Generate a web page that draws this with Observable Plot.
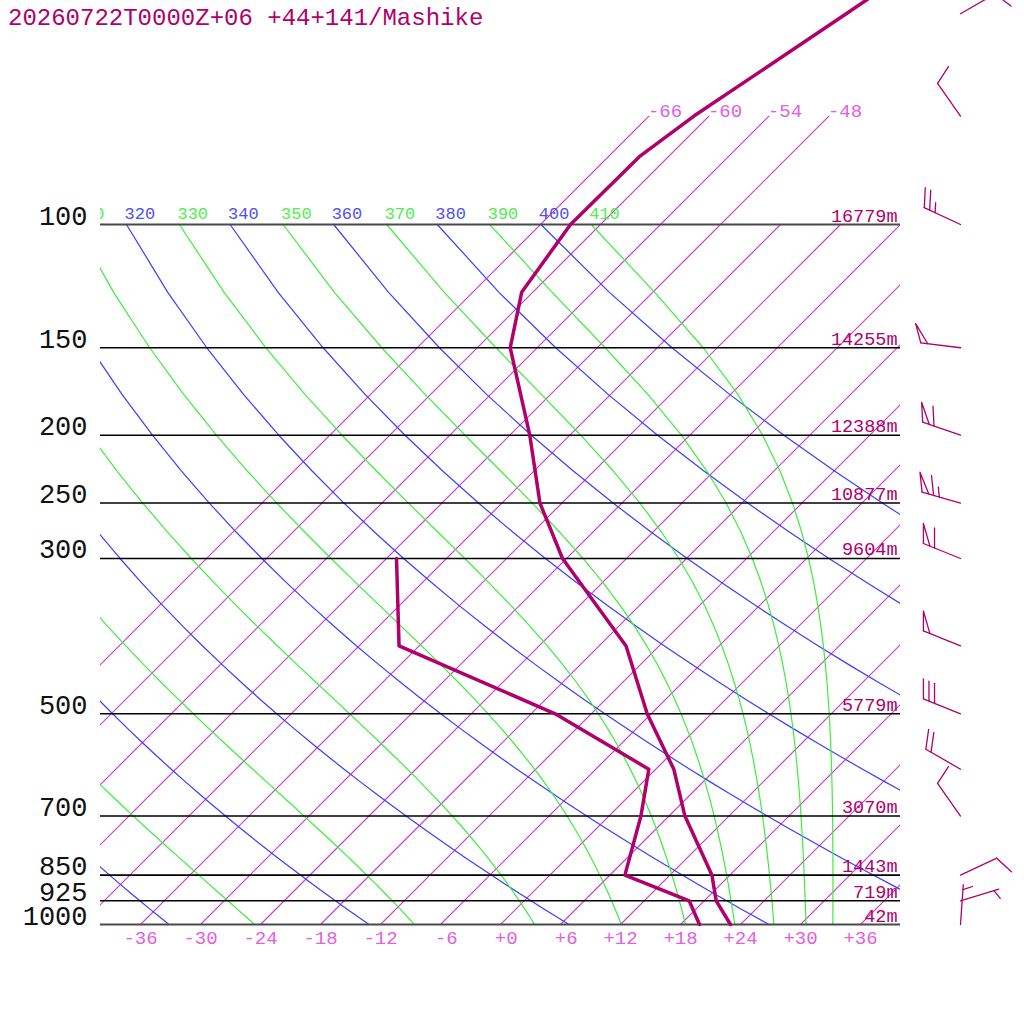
<!DOCTYPE html>
<html><head><meta charset="utf-8">
<script src="https://cdn.jsdelivr.net/npm/d3@7"></script>
<script src="https://cdn.jsdelivr.net/npm/@observablehq/plot@0.6"></script>
<style>
body{margin:0;background:#fff;}
#wrap{position:relative;width:1024px;height:1024px;overflow:hidden;}
#title{position:absolute;left:8px;top:3px;font:24px "Liberation Mono",monospace;color:#b0006b;line-height:32px;white-space:pre;}
</style></head><body>
<div id="wrap"><div id="chart"></div><div id="title">20260722T0000Z+06 +44+141/Mashike</div></div>
<script>
// ---- data ----
const tempP = [1000, 925, 850, 700, 600, 500, 400, 300, 250, 200, 150, 125, 100, 80, 70, 50, 30];
const tempC = [23.0, 19.2, 16.2, 7.6, 1.8, -6.4, -15.3, -30.4, -38.2, -46.0, -56.7, -61.1, -63.0, -62.9, -61.5, -56.5, -49.2];
const dewP = [1000, 925, 850, 700, 600, 500, 400, 300];
const dewC = [19.9, 16.5, 7.5, 3.2, -0.7, -15.6, -38.0, -47.0];
const pressureLevels = [1000, 925, 850, 700, 500, 300, 250, 200, 150, 100];
const pressureLabels = ["1000", "925", "850", "700", "500", "300", "250", "200", "150", "100"];
const heightLabels = ["42m", "719m", "1443m", "3070m", "5779m", "9604m", "10877m", "12388m", "14255m", "16779m"];
const isotherms = [-66, -60, -54, -48, -42, -36, -30, -24, -18, -12, -6, 0, 6, 12, 18, 24, 30, 36];
const isothermTopLabels = [-66, -60, -54, -48];
const xTicks = [-36, -30, -24, -18, -12, -6, 0, 6, 12, 18, 24, 30, 36];
const dryTheta = [240, 260, 280, 300, 320, 340, 360, 380, 400];
const moistThetaE = [250, 270, 290, 310, 330, 350, 370, 390, 410];
const barbP = [50, 70, 100, 150, 200, 250, 300, 400, 500, 600, 700, 850, 925, 1000];
const barbDir = [60, 325, 295, 277, 289, 286, 292, 292, 292, 300, 325, 65, 73, 4];
const barbSpd = [10, 10, 25, 50, 60, 65, 60, 50, 30, 20, 10, 10, 5, 5];

// ---- colours ----
const cProfile = "#b0006b", cIso = "#cc3ccc", cIsoLab = "#e060e0", cDry = "#3c3cff", cDryLab = "#5050f0", cMoist = "#3cee3c", cMoistLab = "#50ee50";
const font = "Liberation Mono";

// ---- geometry of the skew-T frame ----
const W = 1024, H = 1024, mL = 100, mR = 124, mB = 100;
const K = 700 / Math.LN10;                 // px per ln(p)
const mT = (H - mB) - K * Math.log(1000 / 70);
const SK = K / 10;                         // skew in deg per ln(p) (10 px per degree)
const skewX = (T, p) => T + SK * Math.log(1000 / p);
const xS = d3.scaleLinear([-40, 40], [mL, W - mR]);
const yS = d3.scaleLog([1000, 70], [H - mB, mT]);

// isotherms
const isoData = [];
for (const T of isotherms) {
  const top = T <= -48 ? 70 : 100;
  for (const p of [1000, top]) isoData.push({x: skewX(T, p), p, k: T});
}
// adiabats
const curveP = d3.range(1000, 99, -25);
const dryT100 = th => th * Math.pow(0.1, 0.2857) - 273.15;
const dryData = [];
for (const th of dryTheta) for (const p of curveP) dryData.push({x: skewX(th * Math.pow(p / 1000, 0.2857) - 273.15, p), p, k: th});
function thetaE(Tc, p) {
  const es = 6.112 * Math.exp(17.67 * Tc / (Tc + 243.5));
  if (es > 0.8 * p) return 1e9;
  const r = 622 * es / (p - es);
  const TK = Tc + 273.15;
  const thDL = TK * Math.pow(1000 / p, 0.2854 * (1 - 0.00028 * r));
  return thDL * Math.exp((3.376 / TK - 0.00254) * r * (1 + 0.00081 * r));
}
function solveT(te, p) {
  let lo = -160, hi = 60;
  for (let i = 0; i < 60; i++) { const m = (lo + hi) / 2; if (thetaE(m, p) < te) lo = m; else hi = m; }
  return (lo + hi) / 2;
}
const moistData = [];
for (const te of moistThetaE) for (const p of curveP) moistData.push({x: skewX(solveT(te, p), p), p, k: te});

// labels of adiabats at 100 hPa (only those reaching into the frame)
const dryLab = dryTheta.map(th => ({x: skewX(dryT100(th), 100), t: String(th)})).filter(d => xS(d.x) > 70);
const moistLab = moistThetaE.map(te => ({x: skewX(solveT(te, 100), 100), t: String(te)})).filter(d => xS(d.x) > 70);

// profiles
const tempData = tempP.map((p, i) => ({x: skewX(tempC[i], p), p}));
const dewData = dewP.map((p, i) => ({x: skewX(dewC[i], p), p}));

// wind barbs (built in pixel space from direction/speed, mapped back through the scales)
const barbData = [];
let bid = 0;
barbP.forEach((p, i) => {
  const ax = 960, ay = yS(p);
  const a = barbDir[i] * Math.PI / 180;
  const ux = Math.sin(a), uy = -Math.cos(a);
  const th = 68 * Math.PI / 180;
  const fx = ux * Math.cos(th) - uy * Math.sin(th), fy = ux * Math.sin(th) + uy * Math.cos(th);
  const L = 40;
  const pt = s => [ax + (L - s) * ux, ay + (L - s) * uy];
  const polys = [[[ax, ay], pt(0)]];
  let spd = barbSpd[i], s = 0;
  const pen = Math.floor(spd / 50); spd -= pen * 50;
  const full = Math.floor(spd / 10); spd -= full * 10;
  const half = spd >= 5 ? 1 : 0;
  if (pen === 0 && full === 0) s = 5;
  for (let j = 0; j < pen; j++) { const b = pt(s); polys.push([b, [b[0] + 20 * fx, b[1] + 20 * fy], pt(s + 7)]); s += 12; }
  for (let j = 0; j < full; j++) { const b = pt(s); polys.push([b, [b[0] + 20 * fx, b[1] + 20 * fy]]); s += 6; }
  for (let j = 0; j < half; j++) { const b = pt(s); polys.push([b, [b[0] + 10 * fx, b[1] + 10 * fy]]); s += 6; }
  for (const poly of polys) { for (const [px, py] of poly) barbData.push({x: xS.invert(px), p: yS.invert(py), k: bid}); bid++; }
});

const pad = t => { const s = (t >= 0 ? "+" : "") + t; return "\u00a0".repeat(Math.max(0, 3 - s.length)) + s; };

const chart = Plot.plot({
  width: W, height: H,
  marginLeft: mL, marginRight: mR, marginTop: mT, marginBottom: mB,
  x: {domain: [-40, 40], axis: null},
  y: {type: "log", domain: [1000, 70], axis: null},
  style: {background: "#fff", overflow: "visible"},
  marks: [
    Plot.line(isoData, {x: "x", y: "p", z: "k", stroke: cIso, strokeWidth: 1.2, clip: true}),
    Plot.line(dryData, {x: "x", y: "p", z: "k", stroke: cDry, strokeWidth: 1.2, clip: true}),
    Plot.line(moistData, {x: "x", y: "p", z: "k", stroke: cMoist, strokeWidth: 1.2, clip: true}),
    Plot.ruleY(pressureLevels.filter(p => p !== 100 && p !== 1000), {stroke: "#000", strokeWidth: 1.6}),
    Plot.ruleY(pressureLevels.filter(p => p === 100 || p === 1000), {stroke: "#4a4a4a", strokeWidth: 2}),
    Plot.text(dryLab, {x: "x", y: () => 100, text: "t", textAnchor: "start", lineAnchor: "bottom", dy: -5.5, dx: -2, fill: cDryLab, fontSize: 17, fontFamily: font, clip: true}),
    Plot.text(moistLab, {x: "x", y: () => 100, text: "t", textAnchor: "start", lineAnchor: "bottom", dy: -5.5, dx: -2, fill: cMoistLab, fontSize: 17, fontFamily: font, clip: true}),
    Plot.text(isothermTopLabels, {x: d => skewX(d, 70), y: () => 70, text: d => String(d), textAnchor: "start", lineAnchor: "bottom", dy: 0.5, dx: -1, fill: cIsoLab, fontSize: 19, fontFamily: font}),
    Plot.text(xTicks, {x: d => d, y: () => 1000, text: pad, textAnchor: "middle", lineAnchor: "bottom", dy: 19, fill: cIsoLab, fontSize: 19, fontFamily: font}),
    Plot.text(pressureLevels, {y: d => d, text: (d, i) => pressureLabels[i], frameAnchor: "left", dx: -13, textAnchor: "end", lineAnchor: "bottom", fill: "#111", fontSize: 27, fontFamily: font}),
    Plot.text(pressureLevels, {y: d => d, text: (d, i) => heightLabels[i], frameAnchor: "right", dx: -3, dy: -3, textAnchor: "end", lineAnchor: "bottom", fill: cProfile, fontSize: 18.5, fontFamily: font}),
    Plot.line(dewData, {x: "x", y: "p", stroke: cProfile, strokeWidth: 3.5, strokeLinejoin: "round"}),
    Plot.line(tempData, {x: "x", y: "p", stroke: cProfile, strokeWidth: 3.5, strokeLinejoin: "round"}),
    Plot.line(barbData, {x: "x", y: "p", z: "k", stroke: cProfile, strokeWidth: 1.3})
  ]
});
document.getElementById("chart").appendChild(chart);
</script>
</body></html>
